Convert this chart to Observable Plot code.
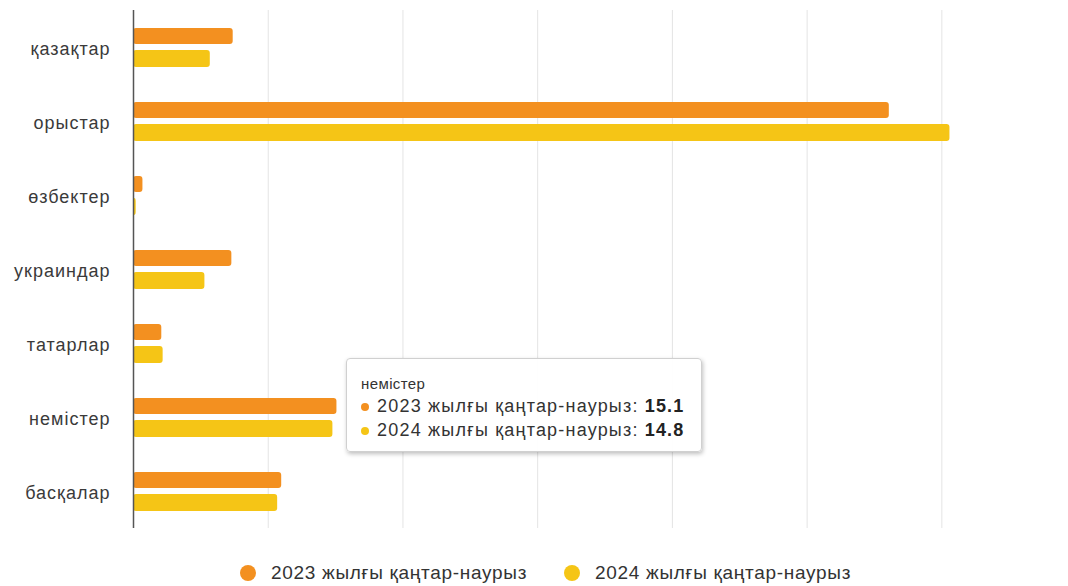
<!DOCTYPE html>
<html>
<head>
<meta charset="utf-8">
<script src="https://cdn.jsdelivr.net/npm/d3@7"></script>
<script src="https://cdn.jsdelivr.net/npm/@observablehq/plot@0.6"></script>
<style>
  html, body { margin: 0; padding: 0; background: #fff; }
  body { width: 1068px; height: 586px; position: relative; overflow: hidden; font-family: "Liberation Sans", Arial, sans-serif; }
  #chart { position: absolute; left: 0; top: 0; }
  #chart text { letter-spacing: 1px; }
  #legend { position: absolute; left: 0; top: 560px; width: 1068px; height: 26px; }
  .li { position: absolute; top: 0; height: 26px; display: flex; align-items: center; font-size: 19px; letter-spacing: 0.7px; color: #333; white-space: nowrap; }
  .li .dot { width: 16px; height: 16px; border-radius: 50%; margin-right: 15px; }
  #tip { position: absolute; left: 346px; top: 358px; width: 356px; height: 94px; box-sizing: border-box;
         background: rgba(255,255,255,0.96); border: 1px solid #d0d0d0; border-radius: 4px;
         box-shadow: 1px 2px 4px rgba(0,0,0,0.25); color: #333; }
  #tip .hd { position: absolute; left: 14px; top: 16px; font-size: 15px; line-height: 17px; letter-spacing: 0.4px; }
  #tip .row { position: absolute; left: 14px; font-size: 18px; line-height: 21px; letter-spacing: 1.2px; white-space: nowrap; display: flex; align-items: center; }
  #tip .row .d { width: 8px; height: 8px; border-radius: 50%; margin-right: 8px; }
  #tip .row b { margin-left: 6px; color: #222; }
</style>
</head>
<body>
<div id="chart"></div>
<div id="tip"></div>
<div id="legend"></div>
<script>
const categories = ["қазақтар", "орыстар", "өзбектер", "украиндар", "татарлар", "немістер", "басқалар"];
const seriesNames = ["2023 жылғы қаңтар-наурыз", "2024 жылғы қаңтар-наурыз"];
const values2023 = [7.4, 56.1, 0.7, 7.3, 2.1, 15.1, 11.0];
const values2024 = [5.7, 60.6, 0.2, 5.3, 2.2, 14.8, 10.7];
const colors = ["#f39020", "#f5c516"];
const gridTicks = [10, 20, 30, 40, 50, 60];
const tooltipCategory = "немістер";

const d2023 = categories.map((c, i) => ({category: c, value: values2023[i]}));
const d2024 = categories.map((c, i) => ({category: c, value: values2024[i]}));

const chart = Plot.plot({
  width: 1068,
  height: 540,
  marginLeft: 133,
  marginRight: 0,
  marginTop: 10,
  marginBottom: 12,
  style: {fontFamily: "Liberation Sans, Arial, sans-serif", background: "#fff"},
  x: {domain: [0, 69.4], axis: null},
  y: {domain: categories, padding: 0, label: null},
  marks: [
    Plot.gridX(gridTicks, {stroke: "#e4e4e4", strokeOpacity: 1, strokeWidth: 1}),
    Plot.barX(d2023, {x: "value", y: "category", fill: colors[0], insetTop: 18, insetBottom: 40, rx: 3}),
    Plot.barX(d2024, {x: "value", y: "category", fill: colors[1], insetTop: 40, insetBottom: 17, rx: 3}),
    Plot.ruleX([0], {stroke: "#555", strokeWidth: 1.5}),
    Plot.axisY({tickSize: 0, tickPadding: 23, fontSize: 18, fill: "#3a3a3a", label: null, dy: 1.5})
  ]
});
document.getElementById("chart").appendChild(chart);

// Legend
const legend = document.getElementById("legend");
const legendX = [240, 564];
seriesNames.forEach((s, i) => {
  const el = document.createElement("div");
  el.className = "li";
  el.style.left = legendX[i] + "px";
  el.innerHTML = `<span class="dot" style="background:${colors[i]}"></span><span>${s}</span>`;
  legend.appendChild(el);
});

// Tooltip
const ti = categories.indexOf(tooltipCategory);
const tip = document.getElementById("tip");
let html = `<div class="hd">${tooltipCategory}</div>`;
const rowsTop = [37, 61];
[values2023[ti], values2024[ti]].forEach((v, i) => {
  html += `<div class="row" style="top:${rowsTop[i]}px"><span class="d" style="background:${colors[i]}"></span><span>${seriesNames[i]}:</span><b>${v.toFixed(1)}</b></div>`;
});
tip.innerHTML = html;
</script>
</body>
</html>
